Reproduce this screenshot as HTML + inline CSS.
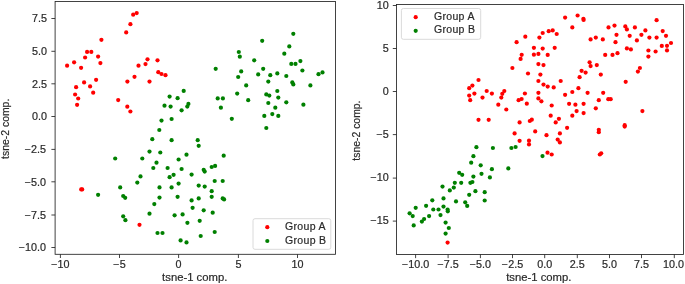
<!DOCTYPE html>
<html><head><meta charset="utf-8"><title>tsne</title>
<style>
html,body{margin:0;padding:0;background:#fff;}
body{width:685px;height:284px;overflow:hidden;}
svg{display:block;will-change:transform;}
text{font-family:"Liberation Sans",sans-serif;fill:#2a2a2a;stroke:#2a2a2a;stroke-width:0.2px;}
.tk{font-size:10px;}
.lb{font-size:10.7px;}
.lg{font-size:10.5px;letter-spacing:0.33px;}
</style></head><body>
<svg width="685" height="284" viewBox="0 0 685 284">
<rect width="685" height="284" fill="#fff"/>
<g fill="#ff0000"><circle cx="136.70" cy="13.10" r="2.1"/><circle cx="133.20" cy="14.70" r="2.1"/><circle cx="130.40" cy="24.20" r="2.1"/><circle cx="126.20" cy="32.40" r="2.1"/><circle cx="101.40" cy="39.80" r="2.1"/><circle cx="87.10" cy="51.90" r="2.1"/><circle cx="91.30" cy="51.90" r="2.1"/><circle cx="98.10" cy="56.60" r="2.1"/><circle cx="85.10" cy="57.50" r="2.1"/><circle cx="100.40" cy="63.10" r="2.1"/><circle cx="74.10" cy="62.30" r="2.1"/><circle cx="67.10" cy="65.70" r="2.1"/><circle cx="81.10" cy="67.80" r="2.1"/><circle cx="96.10" cy="79.80" r="2.1"/><circle cx="84.10" cy="82.40" r="2.1"/><circle cx="90.10" cy="86.40" r="2.1"/><circle cx="76.10" cy="87.20" r="2.1"/><circle cx="93.20" cy="92.70" r="2.1"/><circle cx="75.10" cy="94.50" r="2.1"/><circle cx="78.20" cy="98.50" r="2.1"/><circle cx="77.10" cy="104.80" r="2.1"/><circle cx="147.50" cy="59.30" r="2.1"/><circle cx="157.50" cy="60.30" r="2.1"/><circle cx="145.50" cy="64.10" r="2.1"/><circle cx="138.50" cy="65.70" r="2.1"/><circle cx="158.30" cy="72.20" r="2.1"/><circle cx="161.50" cy="74.00" r="2.1"/><circle cx="165.50" cy="75.20" r="2.1"/><circle cx="134.50" cy="76.80" r="2.1"/><circle cx="127.40" cy="81.60" r="2.1"/><circle cx="149.50" cy="81.60" r="2.1"/><circle cx="118.20" cy="100.10" r="2.1"/><circle cx="127.30" cy="106.70" r="2.1"/><circle cx="130.40" cy="111.50" r="2.1"/><circle cx="81.20" cy="189.40" r="2.1"/><circle cx="82.20" cy="189.40" r="2.1"/><circle cx="139.50" cy="224.80" r="2.1"/></g>
<g fill="#008000"><circle cx="183.70" cy="90.90" r="2.1"/><circle cx="169.60" cy="96.60" r="2.1"/><circle cx="177.60" cy="98.20" r="2.1"/><circle cx="164.50" cy="105.70" r="2.1"/><circle cx="170.60" cy="106.60" r="2.1"/><circle cx="187.30" cy="106.60" r="2.1"/><circle cx="188.40" cy="103.90" r="2.1"/><circle cx="181.60" cy="110.30" r="2.1"/><circle cx="161.50" cy="120.60" r="2.1"/><circle cx="171.60" cy="119.00" r="2.1"/><circle cx="159.30" cy="130.00" r="2.1"/><circle cx="152.30" cy="139.20" r="2.1"/><circle cx="171.60" cy="140.20" r="2.1"/><circle cx="149.50" cy="151.60" r="2.1"/><circle cx="160.30" cy="152.50" r="2.1"/><circle cx="186.50" cy="154.70" r="2.1"/><circle cx="115.20" cy="158.50" r="2.1"/><circle cx="142.30" cy="158.50" r="2.1"/><circle cx="178.60" cy="159.50" r="2.1"/><circle cx="156.50" cy="162.70" r="2.1"/><circle cx="153.30" cy="168.00" r="2.1"/><circle cx="167.60" cy="168.00" r="2.1"/><circle cx="181.60" cy="169.00" r="2.1"/><circle cx="140.50" cy="176.40" r="2.1"/><circle cx="173.60" cy="174.80" r="2.1"/><circle cx="169.60" cy="177.20" r="2.1"/><circle cx="137.30" cy="182.60" r="2.1"/><circle cx="178.60" cy="183.60" r="2.1"/><circle cx="120.20" cy="187.40" r="2.1"/><circle cx="159.50" cy="187.40" r="2.1"/><circle cx="171.60" cy="187.40" r="2.1"/><circle cx="98.10" cy="194.80" r="2.1"/><circle cx="123.20" cy="196.00" r="2.1"/><circle cx="125.20" cy="197.80" r="2.1"/><circle cx="159.50" cy="197.60" r="2.1"/><circle cx="177.60" cy="196.80" r="2.1"/><circle cx="154.30" cy="204.10" r="2.1"/><circle cx="149.50" cy="213.70" r="2.1"/><circle cx="123.20" cy="216.30" r="2.1"/><circle cx="125.40" cy="220.20" r="2.1"/><circle cx="174.60" cy="215.30" r="2.1"/><circle cx="182.60" cy="214.40" r="2.1"/><circle cx="187.40" cy="222.80" r="2.1"/><circle cx="157.50" cy="233.00" r="2.1"/><circle cx="162.50" cy="233.00" r="2.1"/><circle cx="180.60" cy="240.40" r="2.1"/><circle cx="186.50" cy="242.40" r="2.1"/><circle cx="293.30" cy="33.80" r="2.1"/><circle cx="262.20" cy="40.80" r="2.1"/><circle cx="289.30" cy="46.40" r="2.1"/><circle cx="238.80" cy="52.00" r="2.1"/><circle cx="284.30" cy="53.70" r="2.1"/><circle cx="239.80" cy="56.70" r="2.1"/><circle cx="254.20" cy="60.30" r="2.1"/><circle cx="300.40" cy="61.10" r="2.1"/><circle cx="291.30" cy="63.90" r="2.1"/><circle cx="295.50" cy="63.90" r="2.1"/><circle cx="215.70" cy="68.80" r="2.1"/><circle cx="263.20" cy="68.80" r="2.1"/><circle cx="302.40" cy="70.50" r="2.1"/><circle cx="241.20" cy="71.40" r="2.1"/><circle cx="277.30" cy="73.40" r="2.1"/><circle cx="258.20" cy="74.40" r="2.1"/><circle cx="270.30" cy="75.20" r="2.1"/><circle cx="286.30" cy="76.00" r="2.1"/><circle cx="318.50" cy="74.20" r="2.1"/><circle cx="322.50" cy="72.40" r="2.1"/><circle cx="238.20" cy="77.00" r="2.1"/><circle cx="268.30" cy="81.60" r="2.1"/><circle cx="292.30" cy="82.40" r="2.1"/><circle cx="293.30" cy="84.40" r="2.1"/><circle cx="246.20" cy="85.40" r="2.1"/><circle cx="310.40" cy="85.40" r="2.1"/><circle cx="277.30" cy="91.00" r="2.1"/><circle cx="237.20" cy="93.60" r="2.1"/><circle cx="266.30" cy="94.40" r="2.1"/><circle cx="269.30" cy="95.60" r="2.1"/><circle cx="217.70" cy="98.40" r="2.1"/><circle cx="222.90" cy="98.40" r="2.1"/><circle cx="278.30" cy="97.60" r="2.1"/><circle cx="248.20" cy="100.20" r="2.1"/><circle cx="268.30" cy="103.00" r="2.1"/><circle cx="286.30" cy="102.30" r="2.1"/><circle cx="303.40" cy="104.70" r="2.1"/><circle cx="220.90" cy="107.70" r="2.1"/><circle cx="275.30" cy="107.70" r="2.1"/><circle cx="272.30" cy="114.10" r="2.1"/><circle cx="264.30" cy="115.90" r="2.1"/><circle cx="278.30" cy="115.90" r="2.1"/><circle cx="231.80" cy="118.80" r="2.1"/><circle cx="266.30" cy="128.00" r="2.1"/><circle cx="197.70" cy="140.20" r="2.1"/><circle cx="198.70" cy="145.80" r="2.1"/><circle cx="223.70" cy="155.70" r="2.1"/><circle cx="191.60" cy="174.60" r="2.1"/><circle cx="203.70" cy="169.80" r="2.1"/><circle cx="204.70" cy="171.60" r="2.1"/><circle cx="211.70" cy="167.00" r="2.1"/><circle cx="215.10" cy="165.90" r="2.1"/><circle cx="214.70" cy="181.00" r="2.1"/><circle cx="222.70" cy="181.00" r="2.1"/><circle cx="198.70" cy="185.60" r="2.1"/><circle cx="204.70" cy="186.60" r="2.1"/><circle cx="211.70" cy="191.20" r="2.1"/><circle cx="211.70" cy="196.80" r="2.1"/><circle cx="198.70" cy="198.40" r="2.1"/><circle cx="191.60" cy="200.40" r="2.1"/><circle cx="222.70" cy="198.40" r="2.1"/><circle cx="224.10" cy="199.40" r="2.1"/><circle cx="192.60" cy="207.80" r="2.1"/><circle cx="203.70" cy="210.30" r="2.1"/><circle cx="212.70" cy="212.70" r="2.1"/><circle cx="199.70" cy="220.80" r="2.1"/><circle cx="214.70" cy="232.00" r="2.1"/><circle cx="200.70" cy="236.00" r="2.1"/></g>
<rect x="55.1" y="1.55" width="280.4" height="252.75" fill="none" stroke="#222" stroke-width="0.85"/>
<line x1="60.4" y1="254.3" x2="60.4" y2="258.0" stroke="#222" stroke-width="0.85"/><text class="tk" transform="translate(60.4,267.5) scale(1.08,1)" text-anchor="middle">−10</text><line x1="119.5" y1="254.3" x2="119.5" y2="258.0" stroke="#222" stroke-width="0.85"/><text class="tk" transform="translate(119.5,267.5) scale(1.08,1)" text-anchor="middle">−5</text><line x1="178.6" y1="254.3" x2="178.6" y2="258.0" stroke="#222" stroke-width="0.85"/><text class="tk" transform="translate(178.6,267.5) scale(1.08,1)" text-anchor="middle">0</text><line x1="238.4" y1="254.3" x2="238.4" y2="258.0" stroke="#222" stroke-width="0.85"/><text class="tk" transform="translate(238.4,267.5) scale(1.08,1)" text-anchor="middle">5</text><line x1="297.5" y1="254.3" x2="297.5" y2="258.0" stroke="#222" stroke-width="0.85"/><text class="tk" transform="translate(297.5,267.5) scale(1.08,1)" text-anchor="middle">10</text><line x1="51.4" y1="18.5" x2="55.1" y2="18.5" stroke="#222" stroke-width="0.85"/><text class="tk" transform="translate(46.9,22.20) scale(1.08,1)" text-anchor="end">7.5</text><line x1="51.4" y1="51.3" x2="55.1" y2="51.3" stroke="#222" stroke-width="0.85"/><text class="tk" transform="translate(46.9,55.00) scale(1.08,1)" text-anchor="end">5.0</text><line x1="51.4" y1="83.8" x2="55.1" y2="83.8" stroke="#222" stroke-width="0.85"/><text class="tk" transform="translate(46.9,87.50) scale(1.08,1)" text-anchor="end">2.5</text><line x1="51.4" y1="116.5" x2="55.1" y2="116.5" stroke="#222" stroke-width="0.85"/><text class="tk" transform="translate(46.9,120.20) scale(1.08,1)" text-anchor="end">0.0</text><line x1="51.4" y1="149.4" x2="55.1" y2="149.4" stroke="#222" stroke-width="0.85"/><text class="tk" transform="translate(46.1,153.10) scale(1.08,1)" text-anchor="end">−2.5</text><line x1="51.4" y1="181.8" x2="55.1" y2="181.8" stroke="#222" stroke-width="0.85"/><text class="tk" transform="translate(46.1,185.50) scale(1.08,1)" text-anchor="end">−5.0</text><line x1="51.4" y1="215.0" x2="55.1" y2="215.0" stroke="#222" stroke-width="0.85"/><text class="tk" transform="translate(46.1,218.70) scale(1.08,1)" text-anchor="end">−7.5</text><line x1="51.4" y1="247.5" x2="55.1" y2="247.5" stroke="#222" stroke-width="0.85"/><text class="tk" transform="translate(46.1,251.20) scale(1.08,1)" text-anchor="end">−10.0</text>
<text class="lb" transform="translate(194.7,281.2) scale(1.055,1)" text-anchor="middle">tsne-1 comp.</text>
<text class="lb" transform="translate(9.4,128.8) rotate(-90) scale(0.975,1)" text-anchor="middle">tsne-2 comp.</text>
<rect x="253.0" y="218.7" width="77.8" height="30.6" rx="2" ry="2" fill="#fff" fill-opacity="0.8" stroke="#dadada" stroke-width="1"/>
<circle cx="267.3" cy="227.2" r="2.1" fill="#ff0000"/><circle cx="267.3" cy="241.0" r="2.1" fill="#008000"/>
<text class="lg" x="285.0" y="230.0">Group A</text><text class="lg" x="285.0" y="243.6">Group B</text>
<g fill="#ff0000"><circle cx="525.30" cy="36.70" r="2.1"/><circle cx="516.60" cy="42.20" r="2.1"/><circle cx="521.70" cy="54.80" r="2.1"/><circle cx="533.90" cy="47.80" r="2.1"/><circle cx="520.60" cy="58.90" r="2.1"/><circle cx="512.40" cy="68.00" r="2.1"/><circle cx="528.00" cy="73.50" r="2.1"/><circle cx="478.50" cy="80.00" r="2.1"/><circle cx="472.40" cy="85.60" r="2.1"/><circle cx="469.20" cy="88.20" r="2.1"/><circle cx="486.70" cy="91.00" r="2.1"/><circle cx="504.30" cy="91.00" r="2.1"/><circle cx="474.40" cy="93.60" r="2.1"/><circle cx="491.90" cy="93.60" r="2.1"/><circle cx="502.30" cy="93.80" r="2.1"/><circle cx="524.90" cy="93.50" r="2.1"/><circle cx="469.20" cy="95.60" r="2.1"/><circle cx="482.50" cy="97.60" r="2.1"/><circle cx="501.30" cy="97.60" r="2.1"/><circle cx="470.20" cy="100.20" r="2.1"/><circle cx="521.60" cy="99.00" r="2.1"/><circle cx="518.60" cy="100.20" r="2.1"/><circle cx="526.80" cy="103.70" r="2.1"/><circle cx="498.30" cy="104.70" r="2.1"/><circle cx="506.30" cy="109.50" r="2.1"/><circle cx="478.50" cy="119.80" r="2.1"/><circle cx="488.70" cy="119.80" r="2.1"/><circle cx="519.60" cy="122.40" r="2.1"/><circle cx="529.80" cy="121.00" r="2.1"/><circle cx="531.80" cy="119.70" r="2.1"/><circle cx="514.60" cy="133.40" r="2.1"/><circle cx="519.60" cy="140.80" r="2.1"/><circle cx="529.00" cy="140.70" r="2.1"/><circle cx="529.00" cy="144.40" r="2.1"/><circle cx="447.60" cy="242.60" r="2.1"/><circle cx="577.60" cy="15.50" r="2.1"/><circle cx="565.10" cy="17.60" r="2.1"/><circle cx="583.40" cy="18.80" r="2.1"/><circle cx="583.60" cy="20.00" r="2.1"/><circle cx="656.60" cy="20.20" r="2.1"/><circle cx="572.30" cy="27.40" r="2.1"/><circle cx="614.50" cy="25.60" r="2.1"/><circle cx="608.50" cy="27.40" r="2.1"/><circle cx="625.30" cy="26.40" r="2.1"/><circle cx="634.90" cy="27.40" r="2.1"/><circle cx="626.90" cy="29.40" r="2.1"/><circle cx="645.40" cy="30.40" r="2.1"/><circle cx="552.70" cy="30.40" r="2.1"/><circle cx="548.70" cy="31.20" r="2.1"/><circle cx="542.70" cy="33.00" r="2.1"/><circle cx="556.70" cy="34.00" r="2.1"/><circle cx="662.70" cy="31.10" r="2.1"/><circle cx="616.50" cy="34.80" r="2.1"/><circle cx="629.70" cy="35.80" r="2.1"/><circle cx="641.40" cy="34.80" r="2.1"/><circle cx="539.40" cy="37.60" r="2.1"/><circle cx="595.80" cy="37.60" r="2.1"/><circle cx="590.60" cy="39.40" r="2.1"/><circle cx="602.80" cy="39.40" r="2.1"/><circle cx="649.40" cy="37.60" r="2.1"/><circle cx="656.60" cy="37.60" r="2.1"/><circle cx="666.00" cy="35.80" r="2.1"/><circle cx="636.90" cy="40.40" r="2.1"/><circle cx="615.50" cy="42.20" r="2.1"/><circle cx="661.80" cy="45.90" r="2.1"/><circle cx="667.00" cy="45.80" r="2.1"/><circle cx="671.00" cy="43.00" r="2.1"/><circle cx="542.70" cy="48.60" r="2.1"/><circle cx="554.70" cy="47.80" r="2.1"/><circle cx="626.90" cy="48.40" r="2.1"/><circle cx="630.90" cy="49.40" r="2.1"/><circle cx="648.40" cy="50.50" r="2.1"/><circle cx="655.60" cy="51.50" r="2.1"/><circle cx="667.00" cy="50.40" r="2.1"/><circle cx="533.90" cy="54.70" r="2.1"/><circle cx="538.40" cy="53.90" r="2.1"/><circle cx="547.70" cy="54.90" r="2.1"/><circle cx="605.20" cy="54.90" r="2.1"/><circle cx="612.50" cy="54.90" r="2.1"/><circle cx="617.50" cy="53.20" r="2.1"/><circle cx="648.40" cy="56.60" r="2.1"/><circle cx="538.40" cy="64.10" r="2.1"/><circle cx="543.50" cy="65.10" r="2.1"/><circle cx="589.60" cy="62.30" r="2.1"/><circle cx="590.60" cy="66.10" r="2.1"/><circle cx="596.80" cy="65.10" r="2.1"/><circle cx="639.90" cy="68.00" r="2.1"/><circle cx="637.90" cy="71.60" r="2.1"/><circle cx="581.60" cy="70.80" r="2.1"/><circle cx="585.60" cy="72.60" r="2.1"/><circle cx="540.40" cy="74.60" r="2.1"/><circle cx="600.80" cy="74.60" r="2.1"/><circle cx="579.60" cy="77.20" r="2.1"/><circle cx="538.40" cy="81.00" r="2.1"/><circle cx="560.70" cy="81.00" r="2.1"/><circle cx="625.70" cy="81.80" r="2.1"/><circle cx="543.50" cy="84.60" r="2.1"/><circle cx="547.70" cy="86.60" r="2.1"/><circle cx="553.70" cy="87.40" r="2.1"/><circle cx="578.40" cy="88.20" r="2.1"/><circle cx="538.40" cy="92.80" r="2.1"/><circle cx="572.30" cy="92.00" r="2.1"/><circle cx="587.60" cy="92.80" r="2.1"/><circle cx="603.20" cy="92.80" r="2.1"/><circle cx="565.10" cy="94.80" r="2.1"/><circle cx="538.40" cy="98.40" r="2.1"/><circle cx="541.40" cy="101.30" r="2.1"/><circle cx="598.80" cy="100.20" r="2.1"/><circle cx="608.30" cy="99.20" r="2.1"/><circle cx="610.70" cy="99.20" r="2.1"/><circle cx="551.70" cy="105.50" r="2.1"/><circle cx="569.10" cy="103.80" r="2.1"/><circle cx="575.40" cy="104.70" r="2.1"/><circle cx="583.60" cy="103.80" r="2.1"/><circle cx="595.80" cy="108.30" r="2.1"/><circle cx="642.40" cy="111.10" r="2.1"/><circle cx="576.60" cy="111.10" r="2.1"/><circle cx="583.60" cy="113.10" r="2.1"/><circle cx="572.30" cy="115.70" r="2.1"/><circle cx="550.70" cy="115.70" r="2.1"/><circle cx="558.90" cy="118.80" r="2.1"/><circle cx="555.70" cy="122.40" r="2.1"/><circle cx="624.70" cy="125.20" r="2.1"/><circle cx="624.70" cy="126.60" r="2.1"/><circle cx="567.10" cy="127.80" r="2.1"/><circle cx="598.80" cy="129.80" r="2.1"/><circle cx="598.80" cy="132.20" r="2.1"/><circle cx="535.20" cy="131.40" r="2.1"/><circle cx="559.90" cy="133.40" r="2.1"/><circle cx="546.50" cy="135.20" r="2.1"/><circle cx="557.70" cy="139.60" r="2.1"/><circle cx="559.90" cy="142.40" r="2.1"/><circle cx="547.50" cy="152.70" r="2.1"/><circle cx="551.70" cy="154.50" r="2.1"/><circle cx="601.20" cy="153.30" r="2.1"/><circle cx="599.80" cy="154.50" r="2.1"/></g>
<g fill="#008000"><circle cx="476.40" cy="147.20" r="2.1"/><circle cx="492.90" cy="148.00" r="2.1"/><circle cx="511.40" cy="148.00" r="2.1"/><circle cx="515.60" cy="147.00" r="2.1"/><circle cx="473.40" cy="156.20" r="2.1"/><circle cx="542.50" cy="156.10" r="2.1"/><circle cx="471.20" cy="162.70" r="2.1"/><circle cx="480.70" cy="165.30" r="2.1"/><circle cx="491.90" cy="169.20" r="2.1"/><circle cx="508.30" cy="168.40" r="2.1"/><circle cx="459.20" cy="172.80" r="2.1"/><circle cx="462.20" cy="174.80" r="2.1"/><circle cx="481.50" cy="173.80" r="2.1"/><circle cx="473.40" cy="176.60" r="2.1"/><circle cx="489.90" cy="177.40" r="2.1"/><circle cx="454.80" cy="182.80" r="2.1"/><circle cx="461.20" cy="182.80" r="2.1"/><circle cx="470.40" cy="182.80" r="2.1"/><circle cx="472.40" cy="182.00" r="2.1"/><circle cx="442.50" cy="186.60" r="2.1"/><circle cx="453.80" cy="187.60" r="2.1"/><circle cx="449.80" cy="190.40" r="2.1"/><circle cx="475.40" cy="191.20" r="2.1"/><circle cx="484.70" cy="192.20" r="2.1"/><circle cx="469.20" cy="194.80" r="2.1"/><circle cx="432.30" cy="200.30" r="2.1"/><circle cx="443.50" cy="198.40" r="2.1"/><circle cx="456.00" cy="201.40" r="2.1"/><circle cx="465.20" cy="202.30" r="2.1"/><circle cx="484.70" cy="200.50" r="2.1"/><circle cx="426.10" cy="205.80" r="2.1"/><circle cx="443.50" cy="206.60" r="2.1"/><circle cx="467.20" cy="205.90" r="2.1"/><circle cx="415.70" cy="207.80" r="2.1"/><circle cx="433.30" cy="209.50" r="2.1"/><circle cx="438.50" cy="209.50" r="2.1"/><circle cx="447.60" cy="209.50" r="2.1"/><circle cx="447.80" cy="211.30" r="2.1"/><circle cx="409.60" cy="213.30" r="2.1"/><circle cx="440.50" cy="215.10" r="2.1"/><circle cx="412.70" cy="216.10" r="2.1"/><circle cx="429.10" cy="216.10" r="2.1"/><circle cx="424.10" cy="219.00" r="2.1"/><circle cx="421.90" cy="221.60" r="2.1"/><circle cx="445.60" cy="222.60" r="2.1"/><circle cx="413.70" cy="225.40" r="2.1"/><circle cx="448.80" cy="228.00" r="2.1"/><circle cx="445.60" cy="233.60" r="2.1"/></g>
<rect x="396.5" y="4.5" width="287.0" height="249.95" fill="none" stroke="#222" stroke-width="0.85"/>
<line x1="415.6" y1="254.45" x2="415.6" y2="258.15" stroke="#222" stroke-width="0.85"/><text class="tk" transform="translate(415.6,267.6) scale(1.08,1)" text-anchor="middle">−10.0</text><line x1="448.1" y1="254.45" x2="448.1" y2="258.15" stroke="#222" stroke-width="0.85"/><text class="tk" transform="translate(448.1,267.6) scale(1.08,1)" text-anchor="middle">−7.5</text><line x1="480.4" y1="254.45" x2="480.4" y2="258.15" stroke="#222" stroke-width="0.85"/><text class="tk" transform="translate(480.4,267.6) scale(1.08,1)" text-anchor="middle">−5.0</text><line x1="512.5" y1="254.45" x2="512.5" y2="258.15" stroke="#222" stroke-width="0.85"/><text class="tk" transform="translate(512.5,267.6) scale(1.08,1)" text-anchor="middle">−2.5</text><line x1="544.7" y1="254.45" x2="544.7" y2="258.15" stroke="#222" stroke-width="0.85"/><text class="tk" transform="translate(544.7,267.6) scale(1.08,1)" text-anchor="middle">0.0</text><line x1="577.3" y1="254.45" x2="577.3" y2="258.15" stroke="#222" stroke-width="0.85"/><text class="tk" transform="translate(577.3,267.6) scale(1.08,1)" text-anchor="middle">2.5</text><line x1="609.5" y1="254.45" x2="609.5" y2="258.15" stroke="#222" stroke-width="0.85"/><text class="tk" transform="translate(609.5,267.6) scale(1.08,1)" text-anchor="middle">5.0</text><line x1="641.5" y1="254.45" x2="641.5" y2="258.15" stroke="#222" stroke-width="0.85"/><text class="tk" transform="translate(641.5,267.6) scale(1.08,1)" text-anchor="middle">7.5</text><line x1="674.3" y1="254.45" x2="674.3" y2="258.15" stroke="#222" stroke-width="0.85"/><text class="tk" transform="translate(673.4,267.6) scale(1.08,1)" text-anchor="middle">10.0</text><line x1="392.8" y1="5.5" x2="396.5" y2="5.5" stroke="#222" stroke-width="0.85"/><text class="tk" transform="translate(388.7,8.70) scale(1.08,1)" text-anchor="end">10</text><line x1="392.8" y1="48.5" x2="396.5" y2="48.5" stroke="#222" stroke-width="0.85"/><text class="tk" transform="translate(388.7,51.70) scale(1.08,1)" text-anchor="end">5</text><line x1="392.8" y1="91.5" x2="396.5" y2="91.5" stroke="#222" stroke-width="0.85"/><text class="tk" transform="translate(388.7,94.70) scale(1.08,1)" text-anchor="end">0</text><line x1="392.8" y1="134.6" x2="396.5" y2="134.6" stroke="#222" stroke-width="0.85"/><text class="tk" transform="translate(388.7,137.80) scale(1.08,1)" text-anchor="end">−5</text><line x1="392.8" y1="178.1" x2="396.5" y2="178.1" stroke="#222" stroke-width="0.85"/><text class="tk" transform="translate(388.7,181.30) scale(1.08,1)" text-anchor="end">−10</text><line x1="392.8" y1="221.1" x2="396.5" y2="221.1" stroke="#222" stroke-width="0.85"/><text class="tk" transform="translate(388.7,224.30) scale(1.08,1)" text-anchor="end">−15</text>
<text class="lb" transform="translate(538.8,280.6) scale(1.055,1)" text-anchor="middle">tsne-1 comp.</text>
<text class="lb" transform="translate(360.1,130.6) rotate(-90) scale(0.975,1)" text-anchor="middle">tsne-2 comp.</text>
<rect x="401.4" y="8.5" width="79.3" height="30.8" rx="2" ry="2" fill="#fff" fill-opacity="0.8" stroke="#dadada" stroke-width="1"/>
<circle cx="415.7" cy="17.2" r="2.1" fill="#ff0000"/><circle cx="415.7" cy="30.8" r="2.1" fill="#008000"/>
<text class="lg" x="433.9" y="19.7">Group A</text><text class="lg" x="433.9" y="33.4">Group B</text>
</svg>
</body></html>
